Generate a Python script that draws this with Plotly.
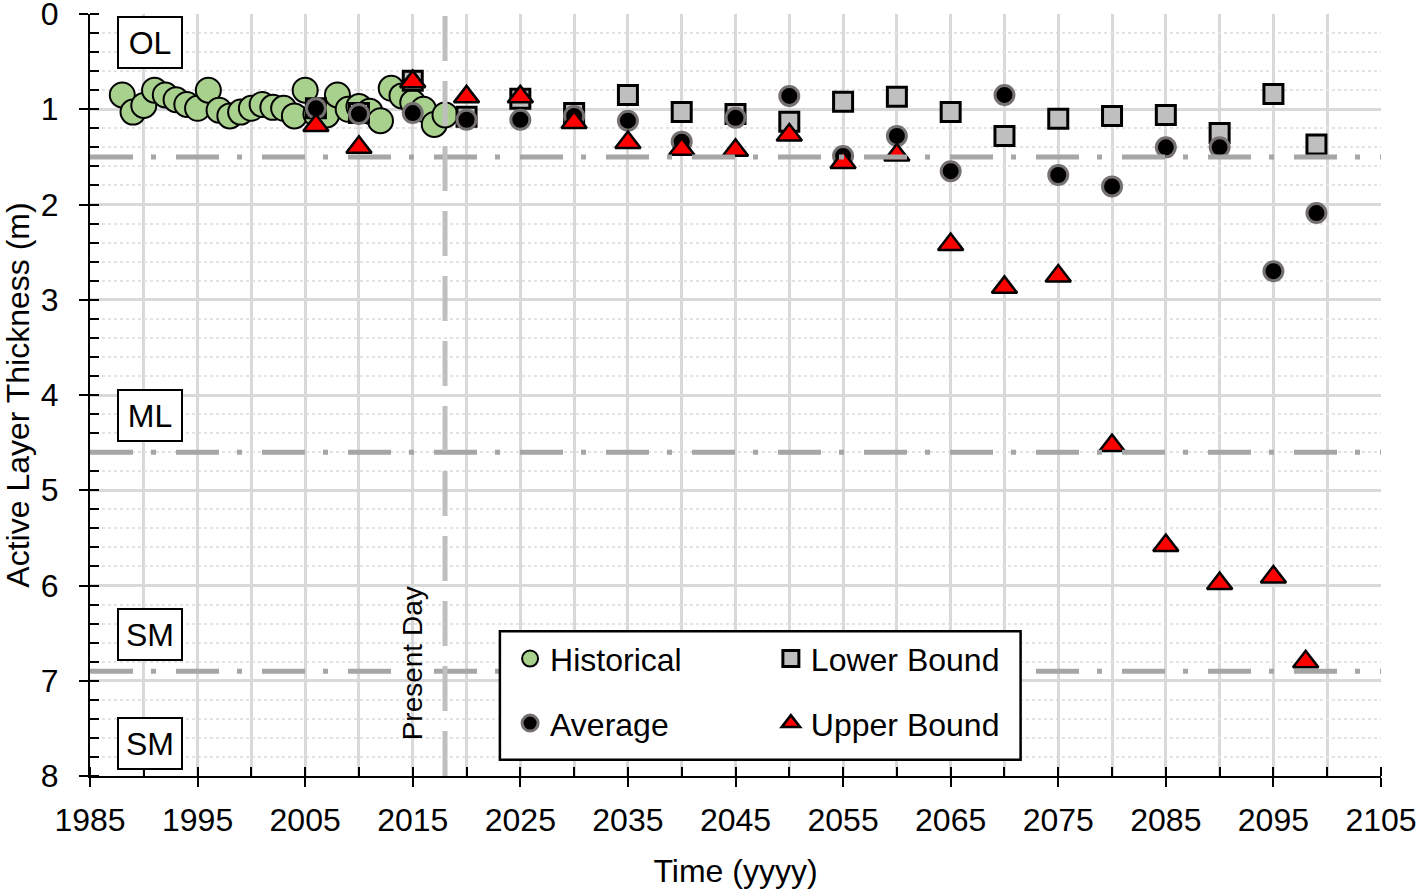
import plotly.graph_objects as go

# historical active layer thickness (m)
hist_years = [1988, 1989, 1990, 1991, 1992, 1993, 1994, 1995, 1996, 1997, 1998,
              1999, 2000, 2001, 2002, 2003, 2004, 2005, 2006, 2007, 2008, 2009,
              2010, 2011, 2012, 2013, 2014, 2015, 2016, 2017, 2018]
hist_alt = [0.85, 1.03, 0.96, 0.80, 0.85, 0.90, 0.95, 0.99, 0.80, 1.01, 1.07,
            1.03, 0.99, 0.95, 0.98, 0.99, 1.07, 0.80, 1.05, 1.06, 0.85, 1.00,
            0.97, 1.02, 1.12, 0.78, 0.86, 0.93, 1.00, 1.16, 1.06]

# projections
proj_years = [2006, 2010, 2015, 2020, 2025, 2030, 2035, 2040, 2045, 2050,
              2055, 2060, 2065, 2070, 2075, 2080, 2085, 2090, 2095, 2099]
avg_alt = [0.99, 1.05, 1.04, 1.11, 1.11, 1.07, 1.12, 1.34, 1.09, 0.86,
           1.49, 1.28, 1.65, 0.85, 1.69, 1.81, 1.40, 1.40, 2.70, 2.09]
lower_alt = [0.99, 1.04, 0.70, 1.08, 0.89, 1.04, 0.85, 1.03, 1.05, 1.13,
             0.92, 0.87, 1.03, 1.28, 1.10, 1.07, 1.06, 1.25, 0.84, 1.37]
upper_years = [2006, 2010, 2015, 2020, 2025, 2030, 2035, 2040, 2045, 2050,
               2055, 2060, 2065, 2070, 2075, 2080, 2085, 2090, 2095, 2098]
upper_alt = [1.17, 1.40, 0.71, 0.87, 0.87, 1.14, 1.35, 1.42, 1.43, 1.27,
             1.56, 1.48, 2.42, 2.87, 2.75, 4.53, 5.58, 5.98, 5.91, 6.80]

# horizon depths and labels
horizon_depths = [1.5, 4.6, 6.9]
horizon_labels = ["OL", "ML", "SM", "SM"]
horizon_label_y = [0.3, 4.21, 6.51, 7.66]
present_year = 2018
y_ticks = [0, 1, 2, 3, 4, 5, 6, 7, 8]

FONT = "Liberation Sans, Arial, sans-serif"

fig = go.Figure()

fig.add_trace(go.Scatter(
    x=hist_years, y=hist_alt, mode="markers", name="Historical",
    marker=dict(symbol="circle", size=25, color="#a9d18e",
                line=dict(color="black", width=2)),
    legend="legend", legendgroup="h"))
fig.add_trace(go.Scatter(
    x=proj_years, y=lower_alt, mode="markers", name="Lower Bound",
    marker=dict(symbol="square", size=19, color="#bfbfbf",
                line=dict(color="black", width=3)),
    legend="legend2", legendgroup="l"))
fig.add_trace(go.Scatter(
    x=proj_years, y=avg_alt, mode="markers", name="Average",
    marker=dict(symbol="circle", size=19, color="black",
                line=dict(color="#767171", width=3)),
    legend="legend", legendgroup="a"))
fig.add_trace(go.Scatter(
    x=upper_years, y=upper_alt, mode="markers", name="Upper Bound",
    marker=dict(symbol="triangle-up", size=22, color="#ff0000",
                line=dict(color="black", width=2.5)),
    legend="legend2", legendgroup="u"))

shapes = []
for d in horizon_depths:
    shapes.append(dict(type="line", xref="paper", x0=0, x1=1, yref="y", y0=d, y1=d,
                       line=dict(color="#a6a6a6", width=5, dash="43px,18px,5px,20px"),
                       layer="above"))
shapes.append(dict(type="line", xref="x", x0=present_year, x1=present_year,
                   yref="paper", y0=0, y1=1,
                   line=dict(color="#bfbfbf", width=5, dash="45px,20px"), layer="above"))
# legend frame
shapes.append(dict(type="rect", xref="x", yref="y", x0=2023.1, x1=2071.5, y0=6.48, y1=7.83,
                   fillcolor="white", line=dict(color="black", width=2.5), layer="above"))

annotations = []
for lab, yy in zip(horizon_labels, horizon_label_y):
    annotations.append(dict(x=1990.6, y=yy, xref="x", yref="y", text=lab, showarrow=False,
                            font=dict(family=FONT, size=32, color="black"),
                            width=56, height=43, borderpad=3, borderwidth=2,
                            bordercolor="black", bgcolor="white"))
annotations.append(dict(x=2015, y=6.82, xref="x", yref="y", text="Present Day",
                        textangle=-90, showarrow=False,
                        font=dict(family=FONT, size=28, color="black")))

legend_style = dict(font=dict(family=FONT, size=32, color="black"),
                    bgcolor="rgba(0,0,0,0)", borderwidth=0, orientation="v",
                    tracegroupgap=20, xanchor="left", yanchor="top",
                    itemsizing="trace")

fig.update_layout(
    template="none",
    width=1418, height=892,
    margin=dict(l=90, r=37, t=14, b=116, autoexpand=False),
    paper_bgcolor="white", plot_bgcolor="white",
    font=dict(family=FONT, size=32, color="black"),
    shapes=shapes, annotations=annotations,
    showlegend=True,
    legend=dict(x=0.3254, y=0.19, **legend_style),
    legend2=dict(x=0.5274, y=0.19, **legend_style),
    xaxis=dict(
        range=[1985, 2105], tick0=1985, dtick=10, showline=True, linecolor="black",
        linewidth=2, ticks="outside", ticklen=9, tickwidth=2, tickcolor="black",
        showgrid=True, gridcolor="#d9d9d9", gridwidth=3, zeroline=False, automargin=False,
        tickfont=dict(family=FONT, size=32), ticklabelstandoff=6, ticklabeloverflow="allow",
        minor=dict(dtick=5, tick0=1985, showgrid=True, gridcolor="#d9d9d9", gridwidth=3,
                   ticks="inside", ticklen=9, tickwidth=2, tickcolor="black"),
        title=dict(text="Time (yyyy)", font=dict(family=FONT, size=32), standoff=22),
    ),
    yaxis=dict(
        range=[8, 0], tickmode="array", tickvals=y_ticks, showline=True, linecolor="black",
        linewidth=2, ticks="outside", ticklen=9, tickwidth=2, tickcolor="black",
        showgrid=True, gridcolor="#d9d9d9", gridwidth=3, zeroline=False, automargin=False,
        tickfont=dict(family=FONT, size=32), ticklabelstandoff=14, ticklabeloverflow="allow",
        minor=dict(dtick=0.2, tick0=0, showgrid=True, gridcolor="#e3e3e3", gridwidth=2,
                   griddash="dot", ticks="inside", ticklen=9, tickwidth=2, tickcolor="black"),
        title=dict(text="Active Layer Thickness (m)", font=dict(family=FONT, size=32),
                   standoff=10),
    ),
)

fig.write_html("out.html", config={"displayModeBar": False},
               post_script="document.body.style.margin='0';")
